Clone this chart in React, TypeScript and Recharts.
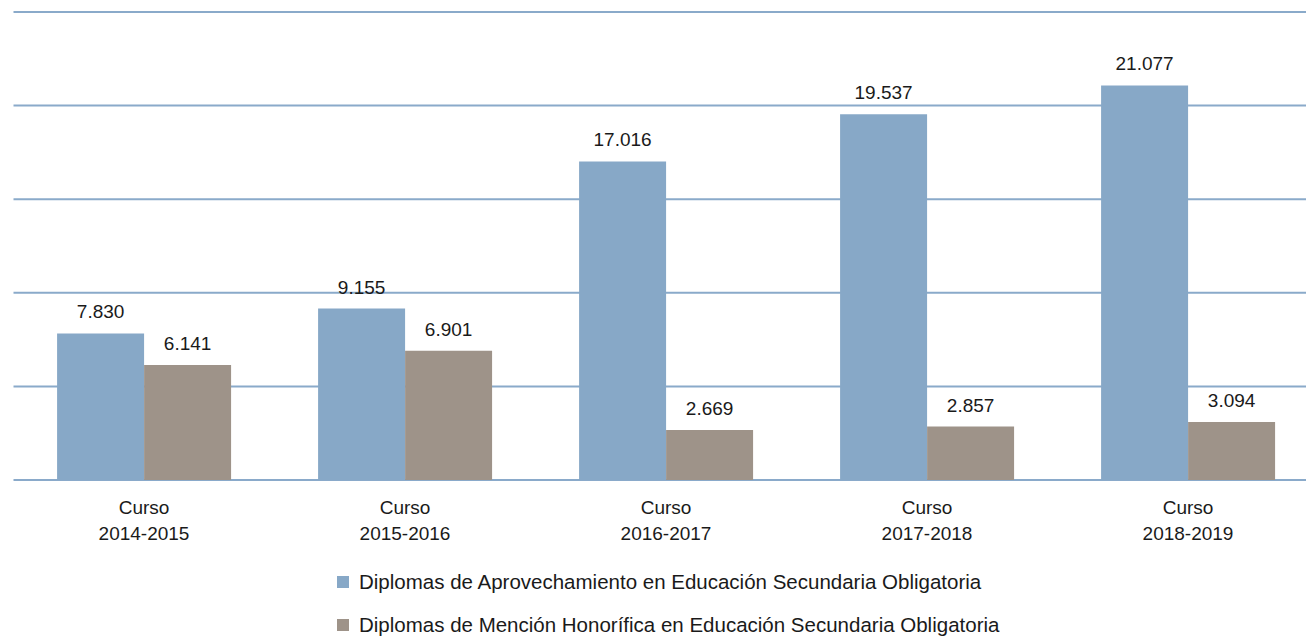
import React from 'react';
import { BarChart, Bar, XAxis, YAxis, CartesianGrid, LabelList } from 'recharts';

const cursos = ['2014-2015', '2015-2016', '2016-2017', '2017-2018', '2018-2019'];
const aprovechamiento = [7830, 9155, 17016, 19537, 21077];
const mencionHonorifica = [6141, 6901, 2669, 2857, 3094];
const yTicks = [0, 5000, 10000, 15000, 20000, 25000];

const series = [
  { key: 'aprovechamiento', color: '#87a8c7', name: 'Diplomas de Aprovechamiento en Educación Secundaria Obligatoria' },
  { key: 'mencion', color: '#9e9389', name: 'Diplomas de Mención Honorífica en Educación Secundaria Obligatoria' },
];

const data = cursos.map((curso, i) => ({
  curso,
  aprovechamiento: aprovechamiento[i],
  mencion: mencionHonorifica[i],
}));

const FONT = '"Liberation Sans", Arial, sans-serif';

const fmt = (v: number) => v.toLocaleString('de-DE');

const CursoTick = ({ x, y, payload }: any) => (
  <text x={x} y={y} textAnchor="middle" fontFamily={FONT} fontSize={19} fill="#1a1a1a">
    <tspan x={x} dy={26}>Curso</tspan>
    <tspan x={x} dy={26}>{payload.value}</tspan>
  </text>
);

export default function App() {
  return (
    <div style={{ position: 'fixed', left: 0, top: 0, width: 1306, height: 638, overflow: 'hidden', background: '#fff' }}>
      <BarChart
        width={1320}
        height={550}
        data={data}
        margin={{ top: 12, right: 1.5, left: 13.5, bottom: 0 }}
        barGap={0}
        barCategoryGap="16.7%"
      >
        <CartesianGrid vertical={false} stroke="#8aaaca" strokeWidth={2} />
        <YAxis hide domain={[0, 25000]} ticks={yTicks} />
        <XAxis dataKey="curso" axisLine={false} tickLine={false} height={70} tick={<CursoTick />} interval={0} />
        {series.map((s) => (
          <Bar key={s.key} dataKey={s.key} fill={s.color} name={s.name} isAnimationActive={false}>
            <LabelList
              dataKey={s.key}
              position="top"
              offset={15}
              formatter={(v: any) => fmt(Number(v))}
              style={{ fontFamily: FONT, fontSize: 19, fill: '#1a1a1a' }}
            />
          </Bar>
        ))}
      </BarChart>
      <div style={{ position: 'absolute', left: 337, top: 560, fontFamily: FONT, fontSize: 20.5, color: '#1a1a1a' }}>
        {series.map((s) => (
          <div key={s.key} style={{ display: 'flex', alignItems: 'center', height: 43, whiteSpace: 'nowrap' }}>
            <span style={{ display: 'inline-block', width: 12, height: 12, background: s.color, marginRight: 10 }} />
            {s.name}
          </div>
        ))}
      </div>
    </div>
  );
}
